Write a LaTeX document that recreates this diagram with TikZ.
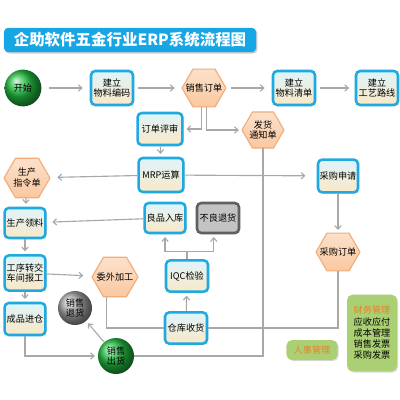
\documentclass[tikz,border=0pt]{standalone}
\usepackage{fontspec}
\setmainfont{Noto Sans CJK SC}
\usetikzlibrary{arrows.meta,shadows}

\definecolor{boxblue}{RGB}{30,170,225}
\definecolor{boxtop}{RGB}{222,245,252}
\definecolor{boxbot}{RGB}{250,232,198}
\definecolor{hexfill}{RGB}{250,200,160}
\definecolor{hexline}{RGB}{242,172,122}
\definecolor{linegray}{RGB}{168,168,168}
\definecolor{titleblue}{RGB}{22,166,230}
\definecolor{startgreen}{RGB}{35,190,65}
\definecolor{mgmtgreen}{RGB}{170,208,115}
\definecolor{mgmtorange}{RGB}{240,125,40}
\definecolor{badgray}{RGB}{195,195,195}

\tikzset{
  stepbox/.style={draw=boxblue, line width=1.8pt, rounded corners=3pt,
    top color=boxtop, bottom color=boxbot, align=center, inner sep=1pt,
    font=\fontsize{6.5}{7.8}\selectfont,
    drop shadow={shadow xshift=0.8pt, shadow yshift=-0.8pt, opacity=0.35}},
  hexshape/.style={draw=hexline, line width=0.8pt, top color=hexfill!55!white,
    bottom color=hexfill, line join=round},
  hextext/.style={inner sep=0pt, align=center, font=\fontsize{6.5}{7.8}\selectfont},
  ballnode/.style={circle, shading=ball, ball color=#1, inner sep=0pt,
    align=center, font=\fontsize{6.5}{7.8}\selectfont},
  mgmtbox/.style={fill=mgmtgreen, rounded corners=4pt, align=left,
    font=\fontsize{6.5}{8}\selectfont,
    drop shadow={shadow xshift=0.8pt, shadow yshift=-0.8pt, opacity=0.3}},
  flow/.style={draw=linegray, line width=0.8pt,
    -{Straight Barb[length=2.5pt,width=4.5pt]}, shorten >=2pt},
  link/.style={draw=linegray, line width=0.8pt}
}

% hexagon with a named text node on top: name, x, y, half width, text
\newcommand{\hexnode}[5]{%
  \path[hexshape] (#2-#4,#3) -- (#2-#4/2,#3-#4*0.86) -- (#2+#4/2,#3-#4*0.86)
    -- (#2+#4,#3) -- (#2+#4/2,#3+#4*0.86) -- (#2-#4/2,#3+#4*0.86) -- cycle;
  \node[hextext, minimum width=#4*0.05cm, minimum height=#4*0.043cm] (#1) at (#2,#3) {#5};
}

\begin{document}
\begin{tikzpicture}[x=0.025cm, y=-0.025cm]

    % page frame (400 x 400 px)
    \useasboundingbox (0,0) rectangle (400,400);

    % title banner
    \node[fill=titleblue, rounded corners=3pt, minimum width=6.3cm, minimum height=0.5cm,
      text=white, font=\fontsize{11}{12}\selectfont\bfseries,
      drop shadow={shadow xshift=1pt, shadow yshift=-1pt, opacity=0.4}]
      (title) at (130,40) {企助软件五金行业ERP系统流程图};

    % top row
    \node[ballnode=startgreen, minimum size=0.92cm] (start) at (23,88) {开始};
    \node[stepbox, minimum width=1.05cm, minimum height=0.85cm] (bmcode) at (112,88) {建立\\物料编码};
    \hexnode{so}{204}{88}{22}{销售订单}
    \node[stepbox, minimum width=1.05cm, minimum height=0.85cm] (bom) at (294,88) {建立\\物料清单};
    \node[stepbox, minimum width=1.05cm, minimum height=0.85cm] (route) at (377,88) {建立\\工艺路线};

    % review, delivery, MRP, purchasing
    \node[stepbox, minimum width=1.12cm, minimum height=0.8cm] (review) at (160,129) {订单评审};
    \hexnode{ship}{263}{130}{21}{发货\\通知单}
    \node[stepbox, minimum width=1.12cm, minimum height=0.85cm] (mrp) at (161,175) {MRP运算};
    \hexnode{pcmd}{27}{178}{23}{生产\\指令单}
    \node[stepbox, minimum width=1cm, minimum height=0.82cm] (preq) at (338,176) {采购申请};
    \hexnode{po}{338}{252}{22}{采购订单}

    % production column
    \node[stepbox, minimum width=1.02cm, minimum height=0.75cm] (pick) at (25,223) {生产领料};
    \node[stepbox, minimum width=1.02cm, minimum height=0.88cm] (wip) at (25,273) {工序转交\\车间报工};
    \node[stepbox, minimum width=1.02cm, minimum height=0.8cm] (fg) at (25,319) {成品进仓};
    \hexnode{sub}{115}{277}{23}{委外加工}

    % receiving and inspection
    \node[stepbox, minimum width=1.02cm, minimum height=0.75cm] (good) at (165,218) {良品入库};
    \node[stepbox, draw=gray!75!black, top color=badgray, bottom color=badgray,
      minimum width=1.05cm, minimum height=0.75cm] (bad) at (218,218) {不良退货};
    \node[stepbox, minimum width=1.05cm, minimum height=0.78cm] (iqc) at (187,276) {IQC检验};
    \node[stepbox, minimum width=1.05cm, minimum height=0.78cm] (recv) at (186,328) {仓库收货};

    % sales
    \node[ballnode=gray!70, minimum size=0.85cm] (ret) at (75,308) {销售\\退货};
    \node[ballnode=startgreen, minimum size=0.9cm] (out) at (116,356) {销售\\出货};

    % other modules
    \node[mgmtbox, minimum width=1.28cm, minimum height=0.5cm, text=mgmtorange] (hr) at (312,350) {人事管理};
    \node[mgmtbox, minimum width=1.25cm, minimum height=1.92cm] (fin) at (372,333)
      {\textcolor{mgmtorange}{财务管理}\\应收应付\\成本管理\\销售发票\\采购发票};

    % connectors, top row
    \draw[flow, shorten <=5pt, shorten >=5pt] (start) -- (bmcode);
    \draw[flow, shorten <=3pt, shorten >=5pt] (bmcode) -- (so);
    \draw[flow, shorten <=3pt, shorten >=5pt] (so) -- (bom);
    \draw[flow, shorten <=3pt, shorten >=4pt] (bom) -- (route);

    % from sales order
    \draw[flow] ([xshift=-2pt]so.south) |- (review.east);
    \draw[flow] ([xshift=2pt]so.south) |- (ship.west);
    \draw[flow] (review) -- (mrp);
    \draw[flow, shorten >=5pt] (mrp) -- (pcmd);
    \draw[flow, shorten >=8pt] (mrp) -- (preq);
    \draw[flow] (preq) -- (po);

    % production
    \draw[flow] (pcmd) -- (pick);
    \draw[flow, shorten >=4pt] (good) -- (pick);
    \draw[flow] (pick) -- (wip);
    \draw[flow, shorten >=6pt] (wip) -- (sub);
    \draw[flow] (wip) -- (fg);

    % receiving and inspection
    \draw[link] ([xshift=-6pt]sub.south) |- (recv.west);
    \draw[link] (po.south) |- (recv.east);
    \draw[flow] (recv) -- (iqc);
    \draw[link] (iqc.north) -- ++(0,-8) coordinate (split);
    \draw[flow] (split) -| (good.south);
    \draw[flow] (split) -| ([xshift=-3pt]bad.south);

    % shipping
    \draw[flow] (fg.south) |- (out.west);
    \draw[link] (ship.south) |- (out.east);
    \draw[flow] (out) -- (ret);

\end{tikzpicture}
\end{document}
